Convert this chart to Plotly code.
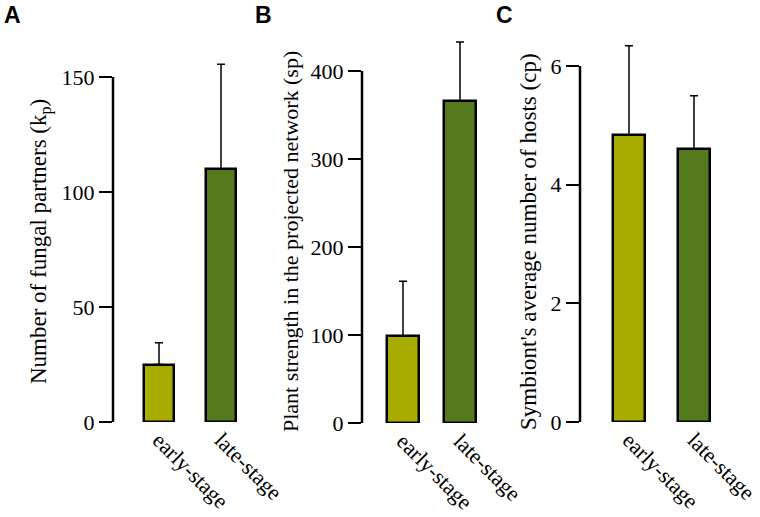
import plotly.graph_objects as go

W, H = 760, 517

categories = ["early-stage", "late-stage"]
colors = ["#A9AC00", "#557A1E"]

kp_values = [25, 110]
kp_errors = [9.5, 45.5]
kp_ticks = [0, 50, 100, 150]

sp_values = [99, 366]
sp_errors = [62, 67]
sp_ticks = [0, 100, 200, 300, 400]

cp_values = [4.84, 4.60]
cp_errors = [1.5, 0.9]
cp_ticks = [0, 2, 4, 6]

titles = ["Number of fungal partners (k<sub>p</sub>)",
          "Plant strength in the projected network (sp)",
          "Symbiont's average number of hosts (cp)"]
letters = ["A", "B", "C"]

# layout geometry in pixels
panels = [
    dict(vals=kp_values, errs=kp_errors, ticks=kp_ticks, axis_px=113, c0_px=159, step_px=62,
         right_px=250, zero_px=422, top_px=40, bar_px=29.5, title_x=40, title_size=23, letter_x=2),
    dict(vals=sp_values, errs=sp_errors, ticks=sp_ticks, axis_px=362, c0_px=403, step_px=57,
         right_px=500, zero_px=423, top_px=30, bar_px=31.5, title_x=290, title_size=22, letter_x=253),
    dict(vals=cp_values, errs=cp_errors, ticks=cp_ticks, axis_px=580, c0_px=629, step_px=65,
         right_px=752, zero_px=422, top_px=30, bar_px=31.5, title_x=528, title_size=23, letter_x=494),
]
px_per_unit = [(422 - 77) / 150, (423 - 71) / 400, (422 - 66) / 6]

fig = go.Figure()
layout = dict(width=W, height=H, margin=dict(l=0, r=0, t=0, b=0, autoexpand=False),
              plot_bgcolor="white", paper_bgcolor="white", showlegend=False,
              bargap=0)
shapes = []
annotations = []

serif = "Liberation Serif"
for i, p in enumerate(panels):
    sfx = "" if i == 0 else str(i + 1)
    xa, ya = "x" + sfx, "y" + sfx
    fig.add_trace(go.Bar(
        x=categories, y=p["vals"], xaxis=xa, yaxis=ya,
        width=p["bar_px"] / p["step_px"],
        marker=dict(color=colors, line=dict(color="black", width=2.5)),
        error_y=dict(type="data", symmetric=False, array=p["errs"],
                     arrayminus=[0] * len(p["errs"]), color="black",
                     thickness=1.5, width=4),
    ))
    r0 = -(p["c0_px"] - p["axis_px"]) / p["step_px"]
    r1 = r0 + (p["right_px"] - p["axis_px"]) / p["step_px"]
    ppu = px_per_unit[i]
    ytop = (p["zero_px"] - p["top_px"]) / ppu
    layout["xaxis" + sfx] = dict(
        domain=[p["axis_px"] / W, p["right_px"] / W], anchor=ya,
        range=[r0, r1], type="category", showline=False, showgrid=False,
        zeroline=False, ticks="", tickangle=45, automargin=False,
        tickfont=dict(family=serif, size=22, color="black"))
    layout["yaxis" + sfx] = dict(
        domain=[(H - p["zero_px"]) / H, (H - p["top_px"]) / H], anchor=xa,
        range=[0, ytop], showline=False, showgrid=False, zeroline=False,
        tickvals=p["ticks"], ticks="outside", ticklen=13, tickwidth=2,
        tickcolor="black", automargin=False,
        tickfont=dict(family=serif, size=22, color="black"))
    shapes.append(dict(type="line", xref=xa + " domain", yref=ya,
                       x0=0, x1=0, y0=0, y1=max(p["ticks"]),
                       line=dict(color="black", width=2.5)))
    annotations.append(dict(text=titles[i], textangle=-90, showarrow=False,
                            xref="paper", yref="paper",
                            x=p["title_x"] / W, y=(H - 242) / H,
                            xanchor="center", yanchor="middle",
                            font=dict(family=serif, size=p["title_size"], color="black")))
    annotations.append(dict(text="<b>" + letters[i] + "</b>", showarrow=False,
                            xref="paper", yref="paper",
                            x=p["letter_x"] / W, y=1.0,
                            xanchor="left", yanchor="top",
                            font=dict(family="Liberation Sans", size=23, color="black")))

layout["shapes"] = shapes
layout["annotations"] = annotations
fig.update_layout(**layout)
fig.write_html("out.html", config={"displayModeBar": False},
               post_script="document.body.style.margin='0px';document.body.style.padding='0px';")
